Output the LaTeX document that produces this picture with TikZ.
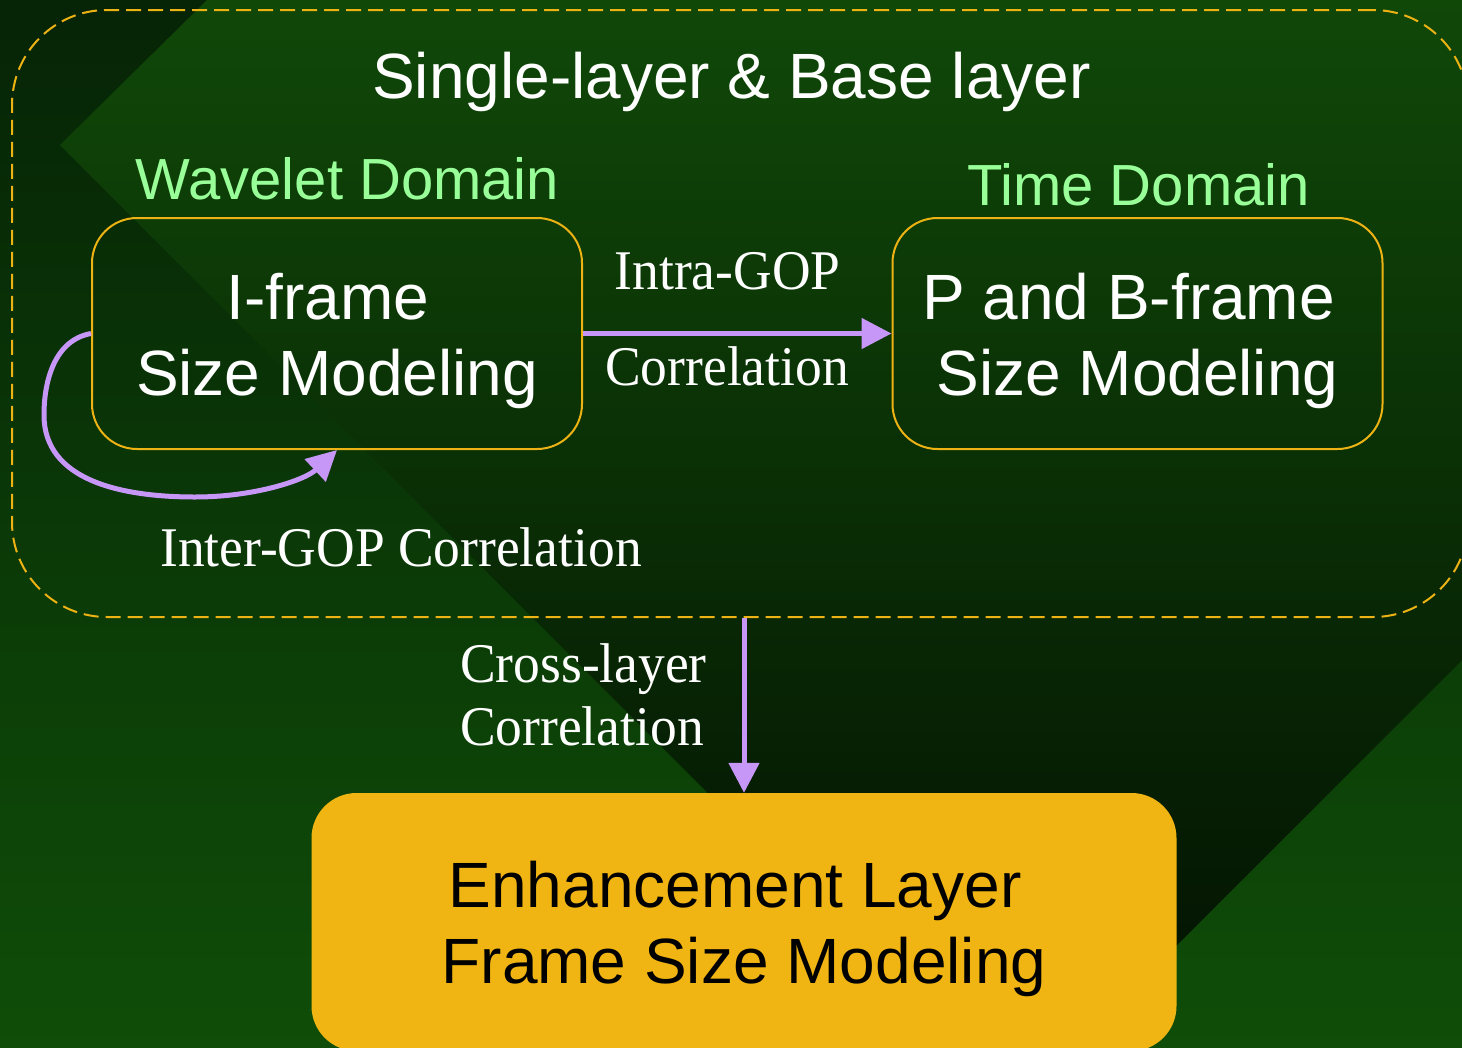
\documentclass[tikz,border=0pt]{standalone}
\usepackage{fontspec}
\setmainfont{Liberation Sans}
\newfontfamily\tnr[FakeStretch=0.955]{Liberation Serif}
\usetikzlibrary{arrows.meta}

\definecolor{bgdark}{HTML}{062406}
\definecolor{bglight}{HTML}{0F4D08}
\definecolor{bandtop}{HTML}{104808}
\definecolor{bandbot}{HTML}{020E02}
\definecolor{goldline}{HTML}{EDB213}
\definecolor{goldfill}{HTML}{F0B512}
\definecolor{lilac}{HTML}{C797F7}
\definecolor{mint}{HTML}{99FF99}

% tall strut for the first line of a box caption, plus a trailing word space
\newcommand\firstline[1]{\rule{0pt}{60.7pt}#1\kern0.278em}

\begin{document}
\begin{tikzpicture}[x=1pt,y=-1pt,
  modelbox/.style={draw=goldline, line width=2pt, rounded corners=45pt,
    minimum width=490pt, minimum height=231pt, inner sep=0pt,
    text=white, align=center, font=\fontsize{64}{76}\selectfont},
  layerbox/.style={draw=goldline, line width=2pt, dash pattern=on 15pt off 7pt,
    rounded corners=95pt, minimum width=1456pt, minimum height=607pt, inner sep=0pt},
  enhbox/.style={fill=goldfill, rounded corners=45pt, minimum width=865pt,
    minimum height=258pt, inner sep=0pt, text=black, align=center,
    font=\fontsize{64}{76}\selectfont},
  heading/.style={anchor=base, text=white, inner sep=0pt, font=\fontsize{64}{76}\selectfont},
  domainlabel/.style={anchor=base, text=mint, inner sep=0pt, font=\fontsize{58}{70}\selectfont},
  corr/.style={text=white, inner sep=0pt, font=\tnr\fontsize{56}{66}\selectfont},
  link/.style={draw=lilac, line width=5pt, -{Triangle[length=30pt,width=30pt]}}
]
\useasboundingbox (0,0) rectangle (1462,1047);
\clip (0,0) rectangle (1462,1047);

% background and the darker diagonal band
\shade[top color=bgdark, bottom color=bglight] (0,0) rectangle (1462,1047);
\shade[top color=bandtop, bottom color=bandbot]
  (207,0) -- (1462,0) -- (1462,660) -- (1018.5,1103.5) -- (60,145) -- cycle;

% frame around the single-layer / base-layer part
\node[layerbox] (layer) at (740,313.5) {};
\node[heading] (title) at (731.5,98) {Single-layer \& Base layer};

% model boxes
\node[domainlabel] (wavelet) at (347.5,199) {Wavelet Domain};
\node[domainlabel] (time) at (1138.5,205) {Time Domain};
\node[modelbox] (iframe) at (337,333.5) {\firstline{I-frame}\\Size Modeling};
\node[modelbox] (pbframe) at (1137.5,333.5) {\firstline{P and B-frame}\\Size Modeling};
\node[enhbox] (enh) at (744,922) {\firstline{Enhancement Layer}\\Frame Size Modeling};

% correlations
\draw[link] (iframe.east) -- (pbframe.west);
\node[corr, anchor=base] (intra1) at (727.5,289) {Intra-GOP};
\node[corr, anchor=base] (intra2) at (727,385) {Correlation};

\draw[link] (iframe.west) .. controls (55,340) and (44,380) .. (44,415)
  .. controls (44,480) and (120,497) .. (195,497)
  .. controls (255,497) and (305,480) .. (iframe.south);
\node[corr, anchor=base west] (inter) at (160,566) {Inter-GOP Correlation};

\draw[link] (layer.south -| enh.north) -- (enh.north);
\node[corr, anchor=base west] (cross1) at (460,682) {Cross-layer};
\node[corr, anchor=base west] (cross2) at (460,745) {Correlation};
\end{tikzpicture}
\end{document}
